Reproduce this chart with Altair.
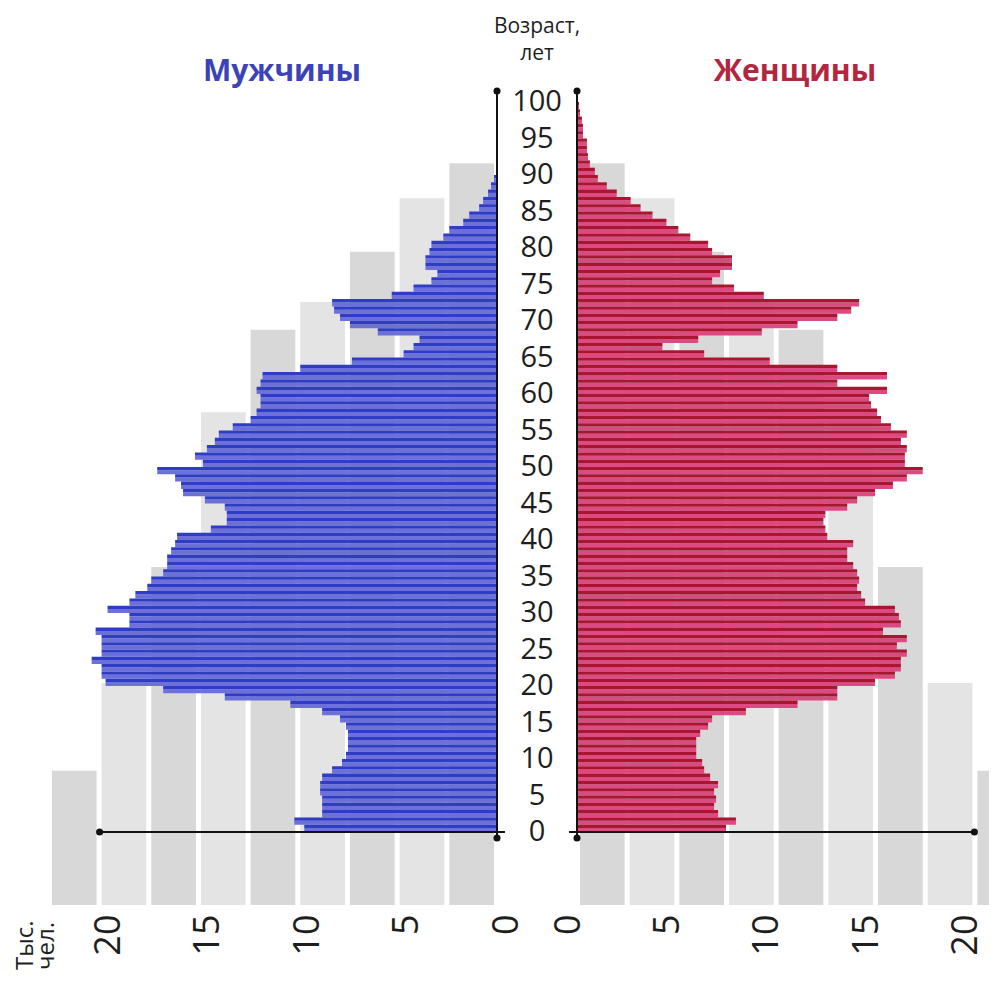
import altair as alt
import pandas as pd

# ---------------- data ----------------
ages = list(range(0, 101))
men = [9.7, 10.2, 8.8, 8.8, 8.8, 8.9, 8.9, 8.8, 8.3, 7.8,
       7.6, 7.5, 7.5, 7.5, 7.6, 7.9, 8.8, 10.4, 13.7, 16.8,
       19.7, 19.9, 19.9, 20.4, 19.9, 19.9, 19.9, 20.2, 18.5, 18.5,
       19.6, 18.5, 18.2, 17.6, 17.4, 16.8, 16.6, 16.6, 16.4, 16.2,
       16.1, 14.4, 13.6, 13.6, 13.7, 14.7, 15.8, 15.9, 16.2, 17.1,
       14.8, 15.2, 14.6, 14.2, 14.0, 13.3, 12.4, 12.1, 11.9, 11.9,
       12.1, 11.9, 11.8, 9.9, 7.3, 4.7, 4.2, 3.9, 6.0, 7.4,
       7.9, 8.2, 8.3, 5.3, 4.2, 3.3, 3.0, 3.6, 3.6, 3.4,
       3.3, 2.7, 2.4, 1.7, 1.4, 0.9, 0.7, 0.45, 0.3, 0.15,
       0.05, 0, 0, 0, 0, 0, 0, 0, 0, 0, 0]
women = [7.5, 8.0, 7.1, 6.9, 7.0, 6.9, 7.1, 6.7, 6.4, 6.3,
         6.0, 6.0, 6.0, 6.2, 6.6, 6.8, 8.5, 11.1, 13.1, 13.1,
         15.0, 16.0, 16.3, 16.3, 16.6, 16.1, 16.6, 15.4, 16.3, 16.2,
         16.0, 14.5, 14.3, 14.1, 14.2, 14.1, 13.9, 13.6, 13.6, 13.9,
         12.6, 12.5, 12.4, 12.5, 13.6, 14.1, 15.0, 15.9, 16.6, 17.4,
         16.5, 16.5, 16.6, 16.3, 16.6, 15.8, 15.3, 15.1, 14.8, 14.7,
         15.6, 13.1, 15.6, 13.1, 9.7, 6.4, 4.3, 6.1, 9.3, 11.1,
         13.1, 13.8, 14.2, 9.4, 7.9, 6.8, 7.2, 7.8, 7.8, 6.8,
         6.6, 5.7, 5.1, 4.5, 3.8, 3.2, 2.7, 2.0, 1.5, 1.05,
         0.9, 0.65, 0.55, 0.5, 0.5, 0.3, 0.3, 0.25, 0.15, 0.1, 0.0]
age_ticks = list(range(0, 101, 5))
value_ticks = [0, 5, 10, 15, 20]
# decorative grey columns behind the pyramid (top age of each 2.5-thousand column)
col_tops = [91.6, 86.8, 79.5, 72.6, 68.8, 57.5, 36.3, 20.4, 8.4]
titles = ["Мужчины", "Женщины"]
age_title = ["Возраст,", "лет"]
unit_title = ["Тыс.", "чел."]

# ---------------- layout constants ----------------
PX = 19.87          # pixels per thousand
PY = 7.3            # pixels per year
H = 897
YMIN = -10
YMAX = YMIN + H / PY
LW, MW, RW = 489, 80, 412
FONT = "Open Sans"
TXT = "#1e1e1e"

df = pd.DataFrame({"age": ages, "men": men, "women": women})
df["age_top"] = df["age"] + 1
df["age_mid"] = df["age"] + 0.55

step = 2.5
cols = pd.DataFrame({
    "x0": [i * step + 0.15 for i in range(len(col_tops))],
    "x1": [(i + 1) * step - 0.1 for i in range(len(col_tops))],
    "top": col_tops,
    "shade": ["a" if i % 2 == 0 else "b" for i in range(len(col_tops))],
})
cols["base"] = YMIN

ys = alt.Scale(domain=[YMIN, YMAX], nice=False, zero=False)


def side(value_col, width, reverse, light, dark, title, title_x, title_color,
         label_offset, extra=None):
    xs = alt.Scale(domain=[0, width / PX], nice=False, zero=False, reverse=reverse)
    axis = alt.Axis(values=value_ticks, labelAngle=270, labelFontSize=36,
                    labelFont=FONT, labelColor=TXT, domain=False, ticks=False,
                    grid=False, title=None, labelPadding=9,
                    labelOffset=label_offset, labelFlush=False,
                    labelOverlap=False)
    gray = alt.Chart(cols).mark_rect(clip=True).encode(
        x=alt.X("x0:Q", scale=xs, axis=axis),
        x2="x1:Q",
        y=alt.Y("base:Q", scale=ys, axis=None),
        y2="top:Q",
        color=alt.Color("shade:N", scale=alt.Scale(domain=["a", "b"],
                        range=["#d8d8d8", "#e4e4e4"]), legend=None),
    )
    base = alt.Chart(df)
    b_low = base.mark_bar(color=light).encode(
        x=alt.X(f"{value_col}:Q", scale=xs), x2=alt.datum(0),
        y=alt.Y("age:Q", scale=ys), y2="age_mid:Q")
    b_high = base.mark_bar(color=dark).encode(
        x=alt.X(f"{value_col}:Q", scale=xs), x2=alt.datum(0),
        y=alt.Y("age_mid:Q", scale=ys), y2="age_top:Q")

    lines = pd.DataFrame({"x": [0, -0.4], "x2": [0, 20],
                          "y": [-0.82, 0], "y2": [101.5, 0]})
    rules = alt.Chart(lines).mark_rule(color="#111", strokeWidth=2).encode(
        x=alt.X("x:Q", scale=xs), x2="x2:Q",
        y=alt.Y("y:Q", scale=ys), y2="y2:Q")
    dots_df = pd.DataFrame({"x": [0, 0, 20], "y": [-0.82, 101.5, 0]})
    dots = alt.Chart(dots_df).mark_circle(color="#111", opacity=1, size=50).encode(
        x=alt.X("x:Q", scale=xs), y=alt.Y("y:Q", scale=ys))

    ttl = alt.Chart(pd.DataFrame({"t": [title]})).mark_text(
        font=FONT, fontSize=30, fontWeight="bold", color=title_color,
        align="center", baseline="middle").encode(
        text="t:N", x=alt.value(title_x), y=alt.value(64))
    layers = [gray, b_low, b_high, rules, dots, ttl]
    if extra is not None:
        layers += extra
    return alt.layer(*layers).properties(width=width, height=H)


unit_df = pd.DataFrame({"t": unit_title, "px": [18, 39]})
unit = alt.Chart(unit_df).mark_text(
    font=FONT, fontSize=24, color=TXT, angle=270, align="left",
    baseline="middle").encode(text="t:N", x=alt.X("px:Q", scale=None),
                              y=alt.value(962))

left = side("men", LW, True, "#6c70d8", "#2f3cc6", titles[0], 274, "#3c42b8",
            9, extra=[unit])
right = side("women", RW, False, "#dc4a83", "#a8172f", titles[1], 218, "#b3263f",
             -9)

age_df = pd.DataFrame({"age": age_ticks})
mid_labels = alt.Chart(age_df).mark_text(
    font=FONT, fontSize=29, color=TXT, align="center", baseline="middle").encode(
    x=alt.value(MW / 2), y=alt.Y("age:Q", scale=ys, axis=None), text="age:Q")
head_df = pd.DataFrame({"t": age_title, "py": [25, 52]})
mid_head = alt.Chart(head_df).mark_text(
    font=FONT, fontSize=21, color=TXT, align="center",
    baseline="alphabetic").encode(
    x=alt.value(MW / 2), y=alt.Y("py:Q", scale=None), text="t:N")
mid = alt.layer(mid_labels, mid_head).properties(width=MW, height=H)

chart = alt.hconcat(left, mid, right, spacing=0, bounds="flush").properties(
    padding={"left": 0, "top": 0, "right": 0, "bottom": 6}, background="white"
).configure_view(stroke=None)

chart.save("out.html", embed_options={"renderer": "svg", "actions": False})
